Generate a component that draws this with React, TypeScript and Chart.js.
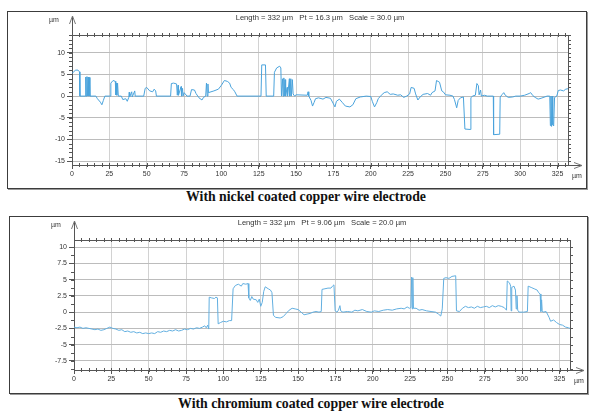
import React, { useEffect, useRef } from "react";
import { Chart, registerables } from "chart.js";
Chart.register(...registerables);

// [x µm, height µm]
const nickelProfile: [number, number][] = [
  [0, 5.2], [1, 5.6], [2.5, 6.0], [4, 6.0], [5, 5.6], [5.3, 0], [9, 0], [9.2, 4.4], [9.5, 0], [10, 4.5], [10.3, 0],
  [10.8, 4.4], [11.2, 0], [11.6, 4.3], [12, 0], [16, 0], [17, -0.6], [19, -1.4], [20, -2.0], [21, -1.0], [22, 0],
  [25.5, 0], [26, 3.0], [27.5, 3.6], [29, 3.4], [29.3, 0.3], [29.6, 3.0], [30, 0.2], [30.5, 3.0], [31, 0], [33, 0],
  [34, -0.8], [36, -0.6], [37, -1.2], [38, -0.3], [38.3, 0.9], [38.6, -0.2], [40, 1.0], [40.3, -0.2], [42, 1.2],
  [42.3, 0], [48, 0], [49, 1.8], [50, 2.0], [52, 1.2], [54, 1.0], [55, 1.6], [56, 1.2], [56.5, 0], [66, 0],
  [66.5, 2.9], [68, 3.0], [70, 2.8], [70.5, 0.2], [71, 2.5], [71.3, 0.2], [73, 2.2], [73.3, 0], [74, 1.8], [74.3, 0],
  [75, 0.8], [77, 0], [79, 0], [80, 1.5], [82, 1.4], [83, 0.6], [85, -0.4], [87, -0.9], [88, -0.3], [89.5, 0],
  [90, 3.0], [90.5, 0], [91, 2.8], [91.3, 0.8], [95, 1.2], [98, 1.6], [100, 2.5], [102, 3.6], [104, 3.4],
  [105.5, 3.0], [106.5, 2.0], [108, 1.5], [109, 1.0], [110.5, 0], [126.5, 0], [127, 7.2], [129.5, 7.2], [130, 0],
  [135, 0], [135.5, 5.5], [137, 6.5], [139, 6.9], [139.8, 6.5], [140.2, 0], [141, 4.0], [141.3, 0], [141.8, 4.2],
  [142.1, 0], [142.6, 3.8], [143, 0], [144, 2.0], [144.3, 0], [145.5, 4.0], [145.8, 0], [146.5, 4.0], [146.8, 0],
  [147.5, 3.8], [148, 0.5], [149, 0], [150, 0.3], [157.5, 0.2], [158, 1.0], [158.5, 0], [160, -1.0], [161, -2.3],
  [162, -1.5], [163, -0.6], [165, -0.4], [168, -0.7], [170, -0.3], [173, -0.5], [175, -1.8], [176, -2.5],
  [177, -1.2], [179, -0.7], [181, -1.5], [183, -2.3], [186, -2.5], [188, -2.0], [190, -0.6], [193, -0.2], [197, 0],
  [200, -0.1], [201, -1.2], [202.5, -2.5], [204, -1.5], [205, -0.6], [207, 0.2], [209, 0.8], [211, 1.0], [213, 0.4],
  [215, 0.5], [218, 0.2], [220, 0.3], [222, -0.3], [224, 0], [226, 0.5], [227, 2.0], [229, 1.8], [230, 0.5],
  [231.5, -0.9], [233, -0.2], [235, 0.4], [238, 0.6], [240, 0.2], [241, 0.8], [243, 1.2], [244, 3.6], [246, 3.2],
  [247.5, 1.2], [248.5, 1.0], [250, 0.3], [253, 0.2], [255, 0], [256, -0.8], [257.5, -2.7], [258.5, -1.0],
  [260, -0.4], [262, -0.2], [263, -7.6], [266.5, -7.7], [267, -0.4], [268, 0], [270, 0.2], [271, 2.9], [272, 2.4],
  [272.5, 0.3], [273.5, 1.4], [274, 0], [276, 0.2], [278, 0], [282, 0], [282.2, -8.9], [286.3, -8.8], [286.6, -0.2],
  [288, 0.4], [289, 0.8], [290, 0.2], [292, -0.3], [295, -0.2], [297, 0], [300, 0], [303, 0.2], [306, 0.6],
  [307, 0.8], [308.5, 0.1], [310, -0.3], [312, -0.7], [314, -0.5], [318, 0], [319.8, 0], [320.2, -6.8], [320.6, 0],
  [321, -7.0], [321.4, 0], [321.8, -6.6], [322.4, -6.9], [323, -0.3], [324.5, 0], [325.5, 1.3], [327, 1.4],
  [329, 1.2], [330.5, 1.6], [332, 1.7],
];

const chromiumProfile: [number, number][] = [
  [0, -2.3], [2, -2.4], [4, -2.3], [6, -2.5], [8, -2.4], [10, -2.5], [12, -2.6], [14, -2.7], [16, -2.6], [18, -2.8],
  [20, -2.7], [22, -2.5], [24, -2.3], [26, -2.5], [28, -2.6], [30, -2.8], [32, -2.7], [34, -3.0], [36, -2.9],
  [38, -3.1], [40, -3.0], [42, -3.2], [44, -3.1], [46, -3.3], [48, -3.2], [50, -3.3], [52, -3.2], [54, -3.3],
  [56, -3.0], [58, -3.1], [60, -2.9], [62, -3.0], [64, -2.8], [66, -2.9], [68, -2.7], [70, -2.9], [72, -2.8],
  [74, -2.6], [76, -2.7], [78, -2.5], [80, -2.6], [82, -2.4], [84, -2.5], [86, -2.3], [87.5, -2.1], [88.5, -2.4],
  [89.5, -2.0], [90.2, -2.6], [90.5, 2.3], [92, 2.2], [94, 2.1], [95, 2.3], [96, 2.2], [96.5, -1.8], [98, -1.6],
  [100, -1.4], [102, -1.5], [104, -1.3], [105.5, -1.3], [106.5, 3.6], [108, 4.1], [110, 4.3], [112, 4.0],
  [113, 4.4], [115, 4.3], [116.5, 4.4], [117, 2.2], [118, 1.8], [119, 2.4], [120, 2.0], [122, 1.9], [123, 1.5],
  [124, 2.0], [125, 0.9], [126, 1.5], [127, 3.2], [128, 3.9], [130, 3.6], [131.5, 3.4], [132.5, 3.0], [133.5, -0.5],
  [135, -0.8], [138, -0.9], [140, -0.7], [142, -0.2], [144, 0.3], [146, 0.6], [148, 0.5], [150, 0.4], [152, 0.0],
  [154, -0.4], [156, -0.3], [158, -0.2], [160, 0.0], [162, 0.1], [164, 0.0], [165.5, 0.1], [166, 3.5], [168, 3.6],
  [170, 3.7], [172, 3.7], [173, 4.0], [174, 4.2], [174.8, 0.2], [176, 0.0], [177, 0.3], [178, 1.0], [178.5, 0.2],
  [180, 0.0], [183, 0.1], [186, 0.0], [188, 0.3], [190, 0.2], [193, 0.4], [196, 0.1], [199, 0.0], [201, 0.2],
  [204, 0.1], [207, 0.3], [210, 0.4], [213, 0.3], [216, 0.5], [219, 0.6], [221, 0.5], [223, 0.8], [224.5, 0.6],
  [225.5, 0.7], [226, 5.4], [226.4, 0.5], [226.8, 5.3], [227.2, 0.6], [229, 0.6], [231, 0.3], [233, 0.4],
  [236, 0.2], [239, 0.1], [242, 0.0], [244, -0.3], [245.5, -0.6], [246.5, 0.5], [247.5, 5.2], [249, 5.3],
  [251, 5.2], [253, 5.5], [255.5, 5.6], [256, 0.2], [258, 0.1], [260, 0.6], [262, 0.9], [264, 0.7], [266, 0.8],
  [268, 0.6], [270, 0.9], [272, 0.7], [274, 0.8], [276, 0.9], [278, 0.7], [280, 1.0], [282, 0.8], [284, 1.0],
  [286, 0.9], [288, 0.7], [289.5, 0.3], [290, 4.8], [291.5, 4.5], [292.3, 4.0], [292.6, 0.2], [293, 3.8],
  [294.5, 4.0], [295.5, 3.4], [296, 0.5], [296.5, 2.5], [297, 0.3], [298, 0.0], [301, 0.0], [303.5, 0.1],
  [304, 4.0], [306, 3.8], [308, 3.6], [310, 3.4], [311, 3.0], [312, 2.8], [312.5, 0.1], [313, 1.9], [313.4, 0.2],
  [314, 0.0], [316, 0.1], [318, -0.8], [319, -1.4], [321, -1.2], [323, -1.6], [325, -1.9], [327, -2.0],
  [329, -2.3], [331, -2.4], [332, -2.5],
];

const xRange = [0, 332];
const xTicks = [0, 25, 50, 75, 100, 125, 150, 175, 200, 225, 250, 275, 300, 325];
const nickelYRange = [-15.9, 14.1];
const nickelYTicks = [-15, -10, -5, 0, 5, 10];
const chromiumYRange = [-8.9, 11.1];
const chromiumYTicks = [-7.5, -5, -2.5, 0, 2.5, 5, 7.5, 10];
const nickelHeader = "Length = 332 \u00b5m   Pt = 16.3 \u00b5m   Scale = 30.0 \u00b5m";
const chromiumHeader = "Length = 332 \u00b5m   Pt = 9.06 \u00b5m   Scale = 20.0 \u00b5m";
const nickelCaption = "With nickel coated copper wire electrode";
const chromiumCaption = "With chromium coated copper wire electrode";

const FONT = '"Liberation Sans", Arial, sans-serif';

function makeDecor(header: string, minorY: number) {
  return {
    id: "decor",
    afterDraw(chart: any) {
      const { ctx, chartArea: a, scales } = chart;
      const xs = scales.x;
      const ys = scales.y;
      const ln = (x1: number, y1: number, x2: number, y2: number) => {
        ctx.beginPath();
        ctx.moveTo(x1, y1);
        ctx.lineTo(x2, y2);
        ctx.stroke();
      };
      ctx.save();
      ctx.strokeStyle = "#555";
      ctx.lineWidth = 1;
      ln(a.left, a.top + 0.5, a.right, a.top + 0.5);
      ln(a.right + 0.5, a.top, a.right + 0.5, a.bottom);
      ln(a.left + 0.5, a.top, a.left + 0.5, a.top - 19);
      ln(a.right, a.bottom + 0.5, a.right + 14, a.bottom + 0.5);
      ctx.strokeStyle = "#777";
      ln(a.left + 0.5, a.top - 19, a.left - 2.5, a.top - 11);
      ln(a.left + 0.5, a.top - 19, a.left + 3.5, a.top - 11);
      ln(a.right + 14, a.bottom + 0.5, a.right + 6, a.bottom - 2.5);
      ln(a.right + 14, a.bottom + 0.5, a.right + 6, a.bottom + 3.5);
      ctx.strokeStyle = "#555";
      for (let v = xRange[0]; v <= xRange[1]; v += 5) {
        const px = Math.round(xs.getPixelForValue(v)) + 0.5;
        ln(px, a.top - 2, px, a.top + 2);
        ln(px, a.bottom - 2, px, a.bottom + 2);
      }
      const start = Math.ceil(ys.min / minorY) * minorY;
      for (let v = start; v <= ys.max; v += minorY) {
        const py = Math.round(ys.getPixelForValue(v)) + 0.5;
        ln(a.right, py, a.right + 3, py);
        ln(a.left - 3, py, a.left, py);
      }
      ctx.fillStyle = "#333";
      ctx.font = "7.6px " + FONT;
      ctx.textAlign = "center";
      ctx.textBaseline = "middle";
      ctx.fillText(header, 312, 6);
      ctx.font = "7px " + FONT;
      ctx.fillText("\u00b5m", a.left - 18, a.top - 15);
      ctx.fillText("\u00b5m", a.right + 9, a.bottom + 11);
      ctx.restore();
    },
  };
}

function ProfileChart(props: {
  profile: [number, number][];
  yRange: number[];
  yTicks: number[];
  minorY: number;
  header: string;
  color: string;
  style: React.CSSProperties;
  width: number;
  height: number;
}) {
  const ref = useRef<HTMLCanvasElement>(null);
  useEffect(() => {
    if (!ref.current) return;
    const chart = new Chart(ref.current, {
      type: "line",
      data: {
        datasets: [
          {
            data: props.profile.map(([x, y]) => ({ x, y })),
            borderColor: props.color,
            borderWidth: 1,
            pointRadius: 0,
            tension: 0,
            fill: false,
          },
        ],
      },
      options: {
        animation: false,
        responsive: false,
        maintainAspectRatio: false,
        layout: { padding: { top: 23, right: props.width - 560, left: 0, bottom: 0 } },
        plugins: { legend: { display: false }, tooltip: { enabled: false }, title: { display: false } },
        scales: {
          x: {
            type: "linear",
            min: xRange[0],
            max: xRange[1],
            afterBuildTicks: (s: any) => {
              s.ticks = xTicks.map((value) => ({ value }));
            },
            afterFit: (s: any) => {
              s.height = props.height - 153;
            },
            ticks: {
              autoSkip: false,
              maxRotation: 0,
              padding: 1,
              color: "#333",
              font: { family: FONT, size: 7 },
              callback: (v: any) => String(v),
            },
            grid: { color: "#d2d2d2", tickColor: "#555", tickLength: 4, lineWidth: 1 },
            border: { color: "#555", width: 1 },
          },
          y: {
            type: "linear",
            min: props.yRange[0],
            max: props.yRange[1],
            afterBuildTicks: (s: any) => {
              s.ticks = props.yTicks.map((value) => ({ value }));
            },
            afterFit: (s: any) => {
              s.width = 64;
            },
            ticks: {
              autoSkip: false,
              padding: 2,
              color: "#333",
              font: { family: FONT, size: 7 },
              callback: (v: any) => String(Math.round(v * 10) / 10),
            },
            grid: { color: "#bcbcbc", tickColor: "#555", tickLength: 5, lineWidth: 1 },
            border: { color: "#555", width: 1 },
          },
        },
      },
      plugins: [makeDecor(props.header, props.minorY)],
    } as any);
    return () => chart.destroy();
  }, []);
  return <canvas ref={ref} width={props.width} height={props.height} style={{ ...props.style, width: props.width, height: props.height }} />;
}

export default function App() {
  const panel: React.CSSProperties = {
    position: "absolute",
    border: "1.5px solid #3c3c3c",
    boxShadow: "1px 1px 0 #999",
    background: "#fff",
    boxSizing: "border-box",
  };
  const caption: React.CSSProperties = {
    position: "absolute",
    width: 600,
    textAlign: "center",
    fontFamily: '"Liberation Serif", "Times New Roman", serif',
    fontWeight: "bold",
    fontSize: 13.8,
    lineHeight: "14px",
    color: "#111",
    whiteSpace: "nowrap",
  };
  return (
    <div style={{ position: "absolute", left: 0, top: 0, width: 589, height: 412, background: "#fff", overflow: "hidden" }}>
      <div style={{ ...panel, left: 7, top: 11, width: 580, height: 178 }} />
      <ProfileChart
        profile={nickelProfile}
        yRange={nickelYRange}
        yTicks={nickelYTicks}
        minorY={1}
        header={nickelHeader}
        color="#4aa3dc"
        width={578}
        height={175}
        style={{ position: "absolute", left: 8, top: 12 }}
      />
      <div style={{ ...caption, left: 6, top: 190 }}>{nickelCaption}</div>
      <div style={{ ...panel, left: 9, top: 216, width: 579, height: 178 }} />
      <ProfileChart
        profile={chromiumProfile}
        yRange={chromiumYRange}
        yTicks={chromiumYTicks}
        minorY={1.25}
        header={chromiumHeader}
        color="#62afe0"
        width={577}
        height={175}
        style={{ position: "absolute", left: 10, top: 217 }}
      />
      <div style={{ ...caption, left: 11, top: 397 }}>{chromiumCaption}</div>
    </div>
  );
}
